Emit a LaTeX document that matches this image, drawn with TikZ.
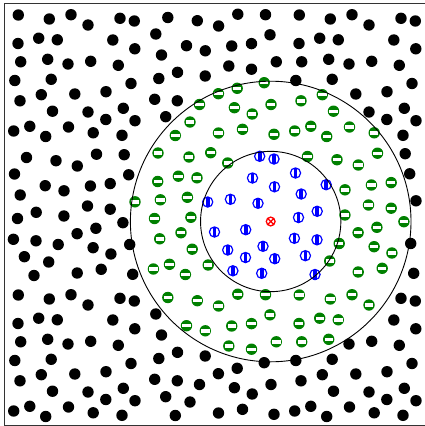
\documentclass[tikz,border=0pt]{standalone}
\usepackage{tikz}

\definecolor{mplgreen}{rgb}{0,0.5,0}

% particle positions of the two cell types (pixel units)
\newcommand{\cellA}{18.3/15, 49.3/19, 71/14.7, 88/25, 120/18.3, 134.3/21,
  18/43.5, 38.7/38.2, 57.3/39.8, 112.8/40, 134.8/48.8,
  20.7/61.8, 47.7/59.3, 68/64, 90.7/61.3, 118.3/65.3,
  14.8/80.5, 51.2/79.3, 131/83.5,
  20/100.8, 41.3/94.7, 74.8/94, 106/91.7, 52.5/111.2, 88/112, 123.3/108.3,
  105.8/119.5, 135/120.7,
  13.7/131, 29.8/126.3, 45.7/136.5, 68.5/127, 93.2/132.8, 122/135.3}
\newcommand{\cellB}{167.8/17.5, 197.3/20.7, 218.6/26, 237.8/14.2, 265.5/14.7,
  155.8/34, 186.5/45.7, 205.3/50.8, 231.7/46, 251.5/43.6, 270/34.8,
  161.5/55, 228.8/66, 251.5/69.2, 276.3/61.8, 177.5/72.3, 205.2/76, 158.8/78.5,
  154.7/99.3, 177.3/100.8, 165.7/116.7,
  218.4/93.7, 237.2/88.3, 264.2/82.7, 199.5/104.5, 234.4/107.7, 252.2/114, 271/104.5,
  190/122, 175.3/135.5, 218.5/133, 242.5/129.3, 274/134.3}

% centre of the shells
\newcommand{\cx}{270.7}
\newcommand{\cy}{221.5}

% one particle, marker chosen by its distance to the centre
\newcommand{\putparticle}[2]{%
  \pgfmathsetmacro{\qx}{#1}%
  \pgfmathsetmacro{\qy}{#2}%
  \pgfmathsetmacro{\dd}{veclen(\qx-\cx,\qy-\cy)}%
  \pgfmathtruncatemacro{\kind}{(\dd<1)+(\dd<70.15)+(\dd<140.3)}%
  \ifcase\kind
    \fill[black] (\qx,\qy) circle (5.7);
  \or
    \fill[mplgreen] (\qx,\qy) circle (5.7);
    \fill[white] (\qx-4.2,\qy-1.7) rectangle (\qx+4.2,\qy+1.7);
  \or
    \filldraw[fill=white, draw=blue, line width=1.2pt] (\qx,\qy) circle (5.1);
    \fill[blue] (\qx-1.9,\qy-5) rectangle (\qx+1.9,\qy+5);
  \or
    \draw[red, line width=1.3pt] (\qx,\qy) circle (4.4)
      (\qx-3,\qy-3) -- (\qx+3,\qy+3) (\qx-3,\qy+3) -- (\qx+3,\qy-3);
  \fi}

\begin{document}
\begin{tikzpicture}[x=1pt, y=-1pt,
    frame/.style={draw=black!80, line width=1pt},
    shell/.style={draw=black, line width=0.9pt}
  ]
    \useasboundingbox (0,0) rectangle (424,426);

    % Particles and their periodic images
    \begin{scope}
      \clip (4,3.5) rectangle (425.5,425);
      \foreach \ox/\oy in {0/0, 281/0, 0/280, 281/280, 139.7/138} {
        \foreach \px/\py in \cellA {\putparticle{\px+\ox}{\py+\oy}}
      }
      \foreach \ox/\oy in {0/0, -141.3/140, 139.7/139, 0/280} {
        \foreach \px/\py in \cellB {\putparticle{\px+\ox}{\py+\oy}}
      }
    \end{scope}

    % Shells
    \coordinate (centre) at (\cx,\cy);
    \draw[shell] (centre) circle (70.15);
    \draw[shell] (centre) circle (140.3);

    % Box
    \draw[frame] (4,3.5) rectangle (425.5,425);
\end{tikzpicture}
\end{document}
